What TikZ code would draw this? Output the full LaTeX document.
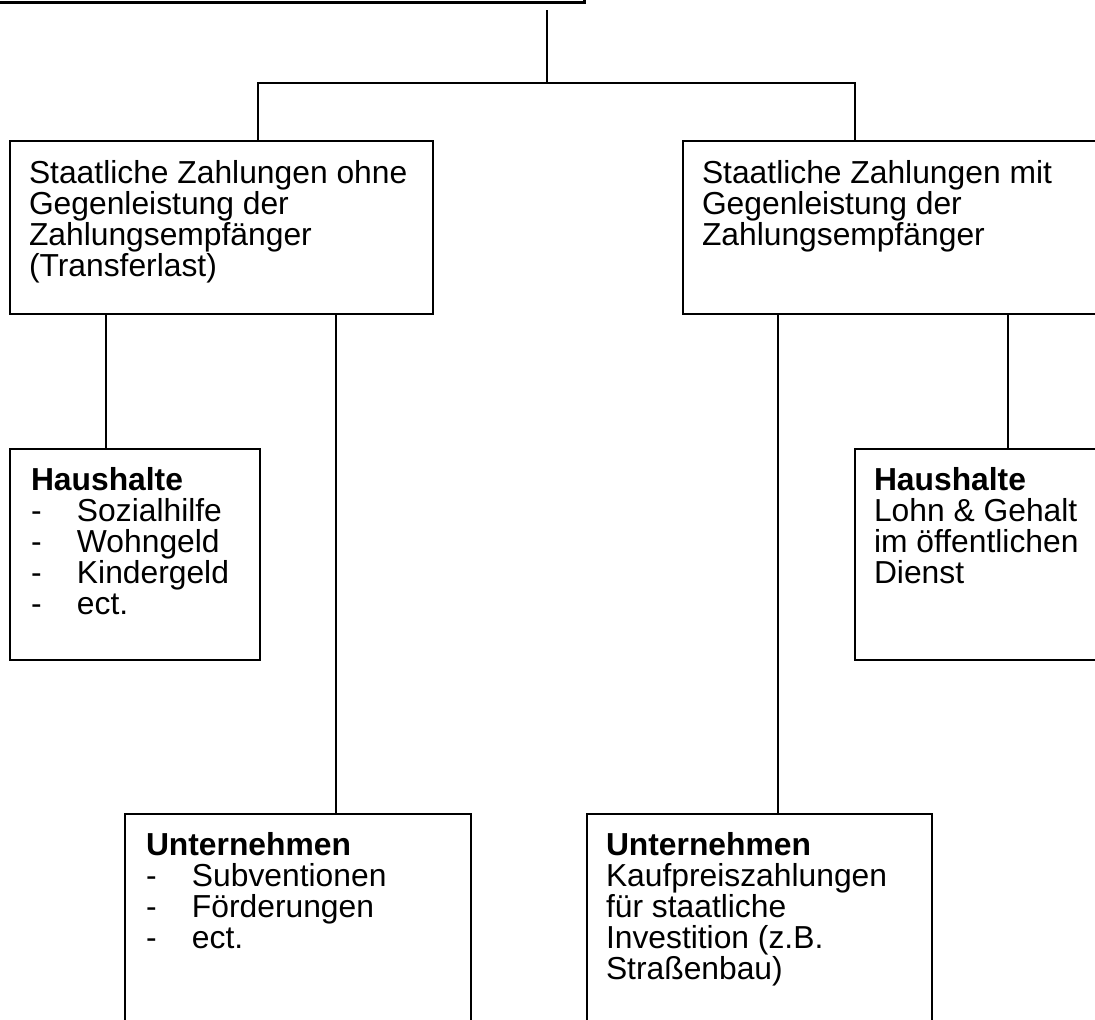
\documentclass[tikz,border=0pt]{standalone}
\usepackage{fontspec}
\setmainfont{Liberation Sans}
\usetikzlibrary{positioning}

\newcommand{\dashitem}[1]{\makebox[46pt][l]{-}#1}

\begin{document}
\begin{tikzpicture}[x=1pt,y=-1pt,line width=2pt,
      panel/.style={draw,rectangle,inner sep=0pt,anchor=north west},
      entry/.style={inner sep=0pt,align=left,font=\fontsize{31.8pt}{31pt}\selectfont}]
  \useasboundingbox (0,0) rectangle (1095,1020);

  % boxes
  \node[panel,line width=3pt,minimum width=588pt,minimum height=300.5pt] (top) at (-5,-300) {};
  \node[panel,minimum width=423pt,minimum height=173pt] (L1) at (9,140) {};
  \node[panel,minimum width=414pt,minimum height=173pt] (R1) at (682,140) {};
  \node[panel,minimum width=250pt,minimum height=211pt] (H1) at (9,448) {};
  \node[panel,minimum width=242pt,minimum height=211pt] (H2) at (854,448) {};
  \node[panel,minimum width=346pt,minimum height=230pt] (U1) at (124,813) {};
  \node[panel,minimum width=345pt,minimum height=230pt] (U2) at (586,813) {};

  % texts
  \node[entry,below right=19pt and 19pt of L1.north west] (L1t)
    {Staatliche Zahlungen ohne\\Gegenleistung der\\Zahlungsempfänger\\(Transferlast)};
  \node[entry,below right=19pt and 19pt of R1.north west] (R1t)
    {Staatliche Zahlungen mit\\Gegenleistung der\\Zahlungsempfänger};
  \node[entry,below right=18pt and 21pt of H1.north west] (H1t)
    {\textbf{Haushalte}\\\dashitem{Sozialhilfe}\\\dashitem{Wohngeld}\\\dashitem{Kindergeld}\\\dashitem{ect.}};
  \node[entry,below right=18pt and 19pt of H2.north west] (H2t)
    {\textbf{Haushalte}\\Lohn \& Gehalt\\im öffentlichen\\Dienst};
  \node[entry,below right=18pt and 21pt of U1.north west] (U1t)
    {\textbf{Unternehmen}\\\dashitem{Subventionen}\\\dashitem{Förderungen}\\\dashitem{ect.}};
  \node[entry,below right=18pt and 19pt of U2.north west] (U2t)
    {\textbf{Unternehmen}\\Kaufpreiszahlungen\\für staatliche\\Investition (z.B.\\Straßenbau)};

  % connectors
  \coordinate (fork) at (547,83);
  \draw ([shift={(552,6.5)}]top.south west) -- (fork);
  \draw ([shift={(249,0)}]L1.north west) |- (fork) -| ([shift={(173,0)}]R1.north west);
  \draw ([shift={(97,0)}]L1.south west) -- ([shift={(97,0)}]H1.north west);
  \draw ([shift={(327,0)}]L1.south west) -- ([shift={(212,0)}]U1.north west);
  \draw ([shift={(96,0)}]R1.south west) -- ([shift={(192,0)}]U2.north west);
  \draw ([shift={(326,0)}]R1.south west) -- ([shift={(154,0)}]H2.north west);
\end{tikzpicture}
\end{document}
